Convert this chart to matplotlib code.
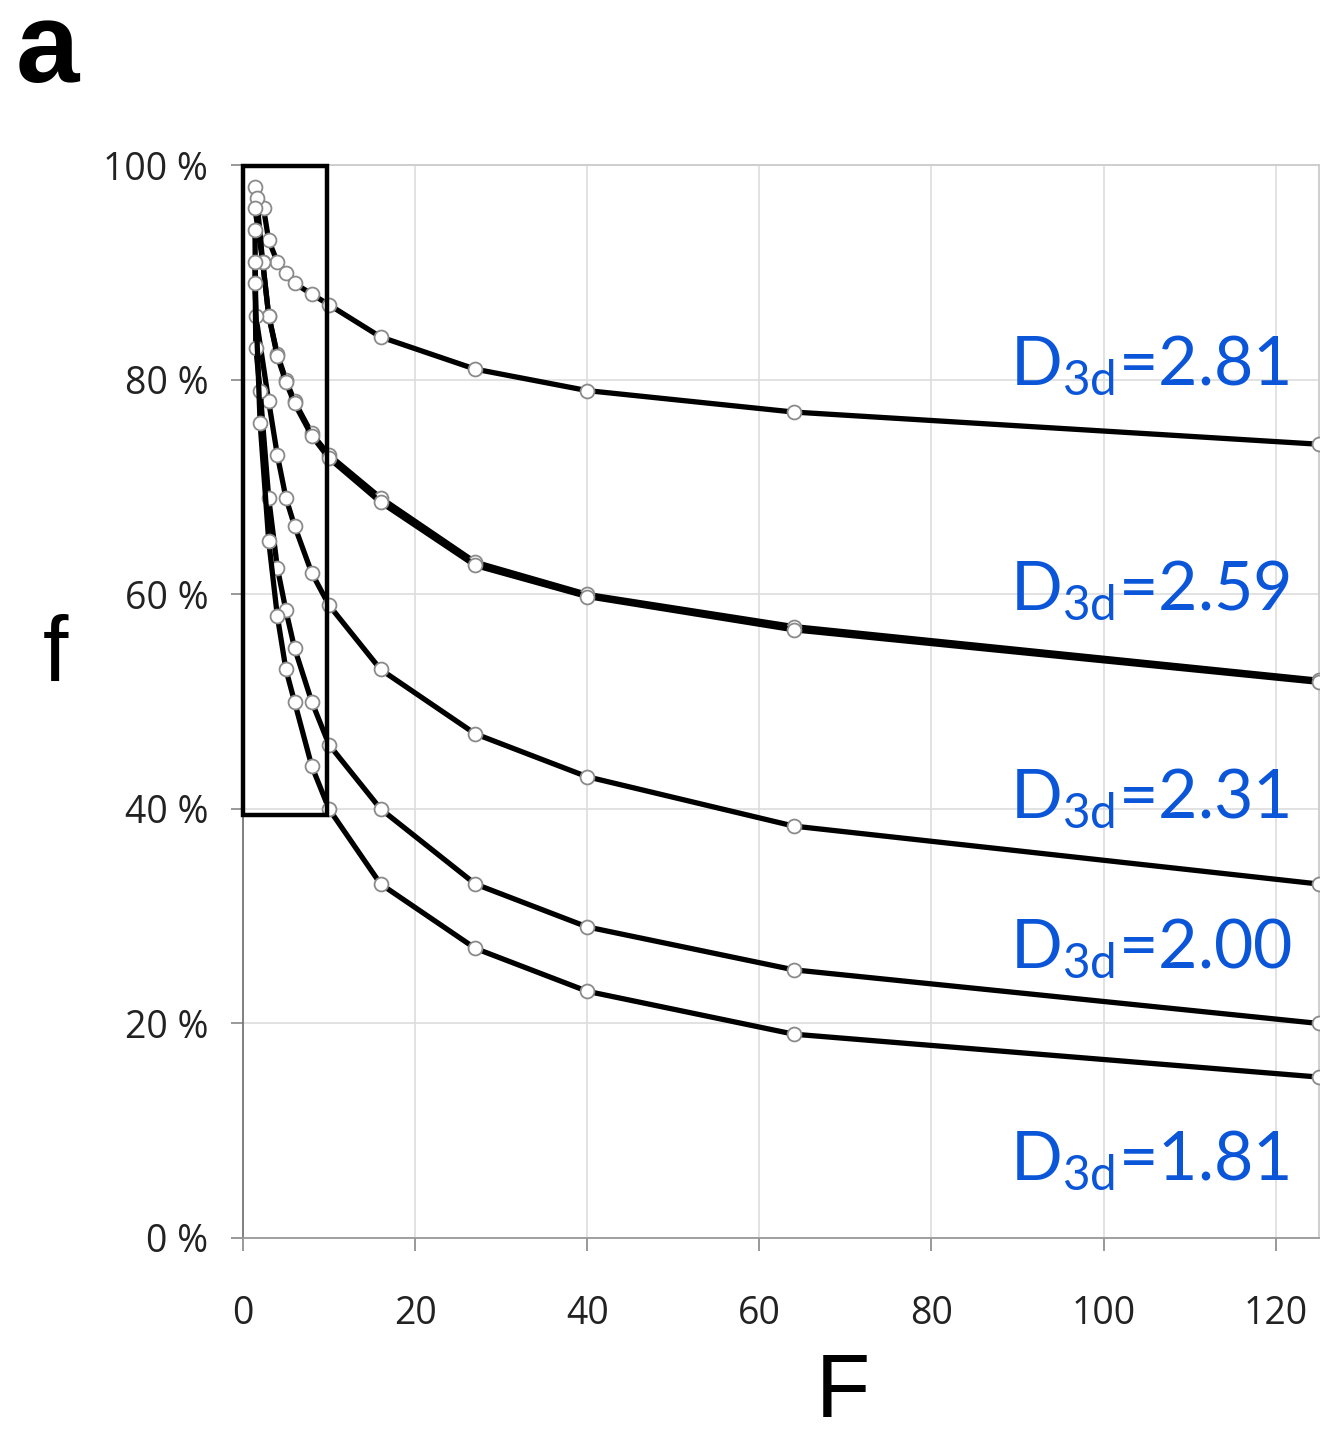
import matplotlib
matplotlib.use("Agg")
import matplotlib.pyplot as plt
from matplotlib.patches import Rectangle

# Data: fraction f (%) against F for several D3d values
x_tail = [3, 4, 5, 6, 8, 10, 16, 27, 40, 64, 125]

x_281 = [1.4, 2.4] + x_tail
f_281 = [98, 96, 93, 91, 90, 89, 88, 87, 84, 81, 79, 77, 74]

x_259a = [1.6, 2.3] + x_tail
f_259a = [97, 91, 86, 82.4, 80, 78, 75, 73, 69, 63, 60, 57, 52]
x_259b = [1.4, 2.3] + x_tail
f_259b = [96, 91, 86, 82.2, 79.8, 77.8, 74.8, 72.7, 68.6, 62.7, 59.8, 56.7, 51.8]

x_231 = [1.4, 1.5] + x_tail
f_231 = [94, 86, 78, 73, 69, 66.4, 62, 59, 53, 47, 43, 38.4, 33]

x_200 = [1.4, 1.5, 2] + x_tail
f_200 = [91, 83, 79, 69, 62.5, 58.5, 55, 50, 46, 40, 33, 29, 25, 20]

x_181 = [1.4, 2] + x_tail
f_181 = [89, 76, 65, 58, 53, 50, 44, 40, 33, 27, 23, 19, 15]

series = [(x_281, f_281), (x_259a, f_259a), (x_259b, f_259b),
          (x_231, f_231), (x_200, f_200), (x_181, f_181)]

labels = ['2.81', '2.59', '2.31', '2.00', '1.81']
label_y = [79.5, 58.6, 39.2, 25.2, 5.4]

plt.rcParams['mathtext.default'] = 'regular'

fig = plt.figure(figsize=(13.2, 14.34), dpi=100)
ax = fig.add_axes([0.184, 0.1367, 0.815, 0.748])

for xs, ys in series:
    ax.plot(xs, ys, color='black', lw=3.8, marker='o', ms=10,
            mfc='white', mec='#8a8a8a', mew=1.3, zorder=3, clip_on=False)

ax.set_xlim(0, 125)
ax.set_ylim(0, 100)
ax.set_xticks(range(0, 121, 20))
ax.set_yticks(range(0, 101, 20))
ax.set_yticklabels([f'{v} %' for v in range(0, 101, 20)])
ax.grid(True, color='#dddddd', lw=1.2)
ax.set_axisbelow(True)

for side in ['top', 'right']:
    ax.spines[side].set_color('#cccccc')
ax.spines['left'].set_color('#777777')
ax.spines['bottom'].set_color('#999999')
for sp in ax.spines.values():
    sp.set_linewidth(1.3)

ax.tick_params(direction='out', length=9, width=1.2, color='#888888',
               labelsize=27)
ax.tick_params(axis='x', pad=32)
ax.tick_params(axis='y', pad=16)
for t in ax.get_xticklabels() + ax.get_yticklabels():
    t.set_fontfamily('Open Sans')
    t.set_color('#222222')

# box around the steep region
ax.add_patch(Rectangle((0.05, 39.4), 9.7, 60.5, fill=False, ec='black',
                       lw=3.2, zorder=4, clip_on=False))

for lab, yy in zip(labels, label_y):
    ax.text(89.1, yy, r'D$_{3d}$=' + lab, color='#0a55d8', fontsize=49,
            family='Lato', va='baseline', ha='left', zorder=5)

fig.text(55 / 1320, 1 - 657 / 1434, 'f', fontsize=66, family='Liberation Sans',
         ha='center', va='center')
fig.text(843 / 1320, 1 - 1394 / 1434, 'F', fontsize=64, family='Liberation Sans',
         ha='center', va='center')
fig.text(16 / 1320, 1 - 82 / 1434, 'a', fontsize=82, family='Liberation Sans',
         fontweight='bold', ha='left', va='baseline')

fig.savefig('out.png', dpi=100)
